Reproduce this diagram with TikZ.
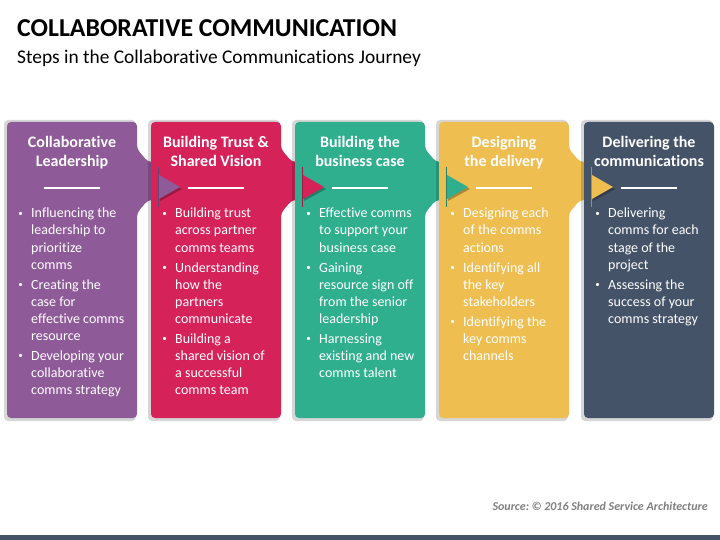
\documentclass[tikz,border=0pt]{standalone}
\usepackage{fontspec}
\setmainfont{Carlito}[RawFeature={-liga}]
\definecolor{cA}{RGB}{142,90,152}
\definecolor{cB}{RGB}{213,35,90}
\definecolor{cC}{RGB}{48,175,143}
\definecolor{cD}{RGB}{238,190,80}
\definecolor{cE}{RGB}{68,83,104}
\definecolor{srcgray}{RGB}{128,128,128}
\tikzset{
  cardshadow/.style={fill=black, opacity=0.16, rounded corners=4pt},
  head/.style={anchor=base, inner sep=0, text=white, font=\fontsize{16}{19}\selectfont\bfseries},
  bul/.style={anchor=center, inner sep=0, text=white, font=\fontsize{9}{10}\selectfont},
  btext/.style={anchor=base west, inner sep=0, text=white, font=\fontsize{14}{17}\selectfont},
  rulew/.style={draw=white, line width=1.6pt},
}
% card with tab to the right
\newcommand\cardtab[2]{%
  \fill[cardshadow] (#1-3,120) rectangle (#1+129,421);
  \fill[#2, rounded corners=4pt] (#1,122) -- (#1+130,122) -- (#1+130,149) -- (#1+141,162) -- (#1+152,162) -- (#1+152,200) -- (#1+141,200) -- (#1+130,213) -- (#1+130,418) -- (#1,418) -- cycle;
}
\newcommand\cardplain[2]{%
  \fill[cardshadow] (#1-3,120) rectangle (#1+129,421);
  \fill[#2, rounded corners=4pt] (#1,122) rectangle (#1+130,418);
}
% marker of previous colour on a card
\newcommand\marker[2]{%
  \fill[black, opacity=0.28] (#1+9,177) -- (#1+31,189) -- (#1+9,201) -- cycle;
  \draw[#2!75!black, line width=1.4pt] (#1+7.5,167) -- (#1+7.5,207);
  \fill[#2] (#1+8,175) -- (#1+29,187) -- (#1+8,199) -- cycle;
}
% heading: name, x0, line1, line2
\newcommand\heading[4]{%
  \node[head] (#1-h1) at (#2+65,148) {#3};
  \node[head] (#1-h2) at (#2+65,167) {#4};
  \draw[rulew] (#2+37,188) -- (#2+93,188);
}
% bullet item: name, x0, first baseline, lines
\newcommand\bitem[4]{%
  \node[bul] (#1-b) at (#2+13.5,#3-4) {•};
  \foreach \t [count=\k from 0] in {#4} {\node[btext] (#1-\k) at (#2+24,#3+17*\k) {\t};}
}
\begin{document}
\begin{tikzpicture}[x=1pt,y=-1pt]
\useasboundingbox (0,0) rectangle (720,540);
\fill[white] (0,0) rectangle (720,540);

\node[anchor=base west, inner sep=0, font=\fontsize{25.8}{30}\selectfont\bfseries] (title) at (17,37) {COLLABORATIVE COMMUNICATION};
\node[anchor=base west, inner sep=0, font=\fontsize{19.4}{22}\selectfont] (subtitle) at (17,63.5) {Steps in the Collaborative Communications Journey};

\cardtab{7}{cA}
\cardtab{151}{cB}
\cardtab{295}{cC}
\cardtab{439}{cD}
\cardplain{584}{cE}

\marker{151}{cA}
\marker{295}{cB}
\marker{439}{cC}
\marker{584}{cD}

\heading{c1}{7}{Collaborative}{Leadership}
\heading{c2}{151}{Building Trust \&}{Shared Vision}
\heading{c3}{295}{Building the}{business case}
\heading{c4}{439}{Designing}{the delivery}
\heading{c5}{584}{Delivering the}{communications}

\bitem{a1}{7}{218}{Influencing the,leadership to,prioritize,comms}
\bitem{a2}{7}{289}{Creating the,case for,effective comms,resource}
\bitem{a3}{7}{360}{Developing your,collaborative,comms strategy}

\bitem{b1}{151}{218}{Building trust,across partner,comms teams}
\bitem{b2}{151}{272}{Understanding,how the,partners,communicate}
\bitem{b3}{151}{343}{Building a,shared vision of,a successful,comms team}

\bitem{d1}{295}{218}{Effective comms,to support your,business case}
\bitem{d2}{295}{272}{Gaining,resource sign off,from the senior,leadership}
\bitem{d3}{295}{343}{Harnessing,existing and new,comms talent}

\bitem{e1}{439}{218}{Designing each,of the comms,actions}
\bitem{e2}{439}{272}{Identifying all,the key,stakeholders}
\bitem{e3}{439}{326}{Identifying the,key comms,channels}

\bitem{f1}{584}{218}{Delivering,comms for each,stage of the,project}
\bitem{f2}{584}{289}{Assessing the,success of your,comms strategy}

\node[anchor=base east, inner sep=0, text=srcgray, font=\fontsize{12}{14}\selectfont\bfseries\itshape] (source) at (708,510) {Source:\kern2.5pt©~2016 Shared Service Architecture};

\fill[cE] (0,535) rectangle (720,540);
\end{tikzpicture}
\end{document}
